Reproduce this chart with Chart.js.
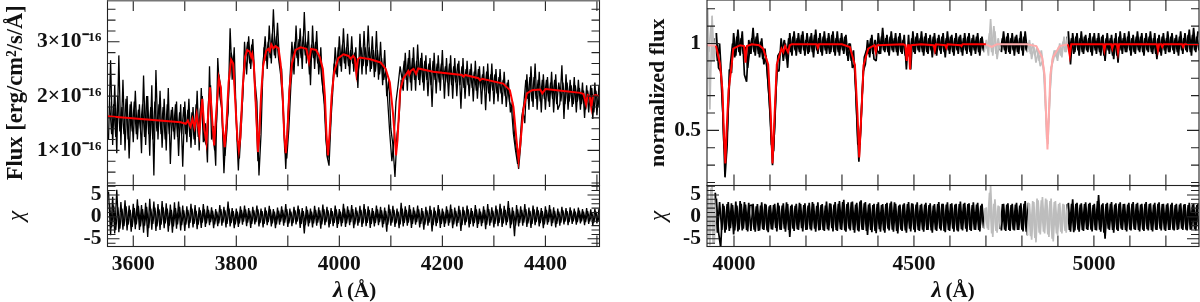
<!DOCTYPE html>
<html>
<head>
<meta charset="utf-8">
<title>Spectrum fit</title>
<script src="https://cdn.jsdelivr.net/npm/chart.js@4"></script>
<style>
  body { margin: 0; background: #fff; width: 1200px; height: 302px; overflow: hidden; position: relative; }
  canvas { position: absolute; }
</style>
</head>
<body>
<canvas id="fluxLeft" width="605" height="186" style="left:0;top:0"></canvas>
<canvas id="chiLeft" width="605" height="117" style="left:0;top:185px"></canvas>
<canvas id="fluxRight" width="580" height="186" style="left:620px;top:0"></canvas>
<canvas id="chiRight" width="580" height="117" style="left:620px;top:185px"></canvas>
<script>
// left spectrum, flux in units of 1e-16, sampled every 4 A from 3552
const fluxLeftStart = 3552, fluxLeftStep = 4;
const fluxLeftValues = [
  1.2,2.66,1.1,2.2,0.95,2.75,1.1,2.3,1.0,2.0,0.85,1.9,1.15,2.1,1.2,1.85,0.95,2.38,1.1,2.0,0.9,2.2,0.54,2.48,1.2,
  2.1,1.05,1.95,1.0,2.15,0.75,1.8,1.2,1.9,0.9,1.85,0.7,1.9,1.15,1.95,1.05,1.8,1.1,2.1,1.0,2.15,1.15,1.5,.78,2.55,
  1.2,1.45,.72,2.7,2.0,1.75,.58,1.4,1.7,3.25,2.3,2.9,1.5,.63,1.5,1.9,3.0,2.4,3.1,2.5,3.05,2.3,1.9,.54,1.3,
  2.6,3.1,2.5,3.3,2.6,3.6,2.7,3.35,2.6,2.5,1.6,.66,1.6,2.3,3.0,2.4,3.3,2.55,3.25,2.5,3.55,2.6,3.2,2.2,3.3,
  2.5,3.2,2.4,2.9,2.1,1.8,.9,.72,1.6,2.2,2.9,2.35,3.1,2.45,3.25,2.5,3.15,2.4,3.1,2.45,2.9,2.15,3.15,2.4,3.2,
  2.4,3.3,2.45,3.1,2.35,3.2,2.3,3.0,2.2,2.85,2.0,2.3,1.4,1.1,.51,1.3,1.6,2.3,2.1,2.8,2.1,2.85,2.1,2.9,2.1,
  2.95,2.2,2.8,2.1,2.75,2.0,2.7,1.8,2.8,2.05,2.75,2.1,2.85,1.95,2.7,2.0,2.75,1.95,2.7,2.0,2.65,1.77,2.7,1.95,2.65,
  2.0,2.6,1.9,2.65,1.95,2.55,1.85,2.55,1.74,2.6,1.9,2.6,1.85,2.5,1.9,2.5,1.85,2.45,1.8,2.3,1.7,1.9,1.3,1.0,.66,
  1.1,1.75,1.5,2.4,1.75,2.55,1.8,2.6,1.75,2.45,1.7,2.4,1.75,2.35,1.8,2.45,1.7,2.4,1.75,1.85,2.57,1.58,2.4,1.75,2.3,
  1.8,2.35,1.7,2.3,1.75,2.25,1.6,2.2,1.7,2.2,1.58,2.25,1.65,2.2
];
// samples in between, every 4 A from 3554
const fluxLeftBetween = [
  1.9,1.3,1.85,1.25,2.0,1.35,1.8,1.3,1.95,1.2,1.85,1.35,1.9,1.3,1.75,1.4,1.85,1.25,2.0,1.3,1.8,1.2,1.9,1.35,1.85,
  1.3,1.8,1.2,1.85,1.3,1.75,1.35,1.85,1.25,1.7,1.3,1.8,1.3,1.75,1.25,1.7,1.2,1.85,1.25,1.75,2.0,1.2,1.1,1.9,2.2,
  1.3,1.0,1.6,2.4,2.15,1.3,.9,1.4,2.2,2.8,2.6,2.0,1.2,.85,1.5,2.3,2.7,3.0,2.6,2.95,2.5,1.8,.8,1.5,2.2,
  2.9,2.65,3.0,2.7,3.15,2.75,3.1,2.7,2.4,1.9,1.0,.85,1.4,2.2,2.7,3.0,2.7,3.05,2.7,3.1,2.75,3.0,2.4,2.95,2.7,
  3.0,2.6,2.75,2.3,2.0,1.2,.85,1.3,2.1,2.6,2.4,2.9,2.55,2.95,2.6,2.9,2.55,2.85,2.6,2.8,2.3,2.55,2.9,2.55,2.9,
  2.55,2.9,2.5,2.85,2.45,2.85,2.4,2.7,2.3,2.5,1.9,1.3,.8,1.2,1.9,2.2,2.55,2.3,2.65,2.3,2.7,2.25,2.7,2.3,2.65,
  2.3,2.7,2.25,2.65,2.3,2.6,2.2,2.65,2.3,2.6,2.25,2.6,2.3,2.55,2.25,2.6,2.2,2.55,2.25,2.6,2.2,2.55,2.15,2.5,2.2,
  2.5,2.15,2.45,2.1,2.5,2.15,2.4,2.1,2.45,2.05,2.4,2.1,2.4,2.05,2.35,2.05,2.3,2.0,2.25,1.9,1.8,1.3,1.0,.75,1.05,
  1.6,1.85,2.3,1.95,2.35,1.9,2.35,1.95,2.3,1.9,2.3,1.95,2.3,1.9,2.25,1.95,2.3,1.85,2.25,1.9,2.25,1.85,2.25,1.9,2.2,
  1.85,2.2,1.9,2.15,1.85,2.1,1.75,2.1,1.85,2.15,1.7,2.1,1.8,2.1
];

// left model
const modelWaveLeft = [3550,3692,3702,3706,3711,3715,3719,3723,3728,3734,3738,3742,3746,3749,3753,3757,3761,3766,3770,3774,3777.5,3781,3785,3790,3794,3798,3802,3805,3808,3812,3817,3821,3826,3829,3831,3834,3838,3841,3842,3844,3848,3852,3858,3862,3865,3868,3872,3876,3882,3886,3890,3893,3896,3899,3903,3908,3915,3925,3936,3941,3945,3955,3962,3968,3972,3975,3978,3981,3985,3990,3998,4008,4018,4022,4027,4030,4033,4036,4040,4060,4080,4090,4098,4104,4108,4110,4113,4118,4124,4134,4136,4139,4144,4149,4153,4182,4238,4241,4244,4270,4273,4277,4318,4331,4338,4344,4348,4352,4357,4364,4374,4390,4394,4400,4422,4468,4474,4479,4482,4486,4489,4492,4497,4505];
const modelFluxLeft = [1.63,1.52,1.49,1.55,1.44,1.58,1.42,1.66,1.3,1.95,1.4,1.15,1.75,2.16,1.6,1.09,1.7,2.33,2.15,1.4,1.06,1.5,2.25,2.67,2.6,1.9,1.25,1.0,1.25,2.1,2.72,2.85,2.82,2.72,2.78,2.6,1.8,1.2,.97,1.2,2.0,2.55,2.83,2.87,2.82,2.95,2.88,2.92,2.88,2.6,2.0,1.3,.95,1.3,2.1,2.6,2.85,2.9,2.87,2.63,2.87,2.85,2.72,2.5,2.0,1.3,.91,1.3,2.0,2.45,2.7,2.77,2.74,2.69,2.74,2.7,2.42,2.68,2.71,2.68,2.62,2.5,2.25,1.7,1.2,.91,1.2,2.1,2.32,2.46,2.4,2.47,2.5,2.41,2.51,2.45,2.39,2.36,2.39,2.33,2.29,2.32,2.23,2.11,1.8,1.18,.82,1.18,1.74,2.05,2.11,2.12,2.05,2.13,2.11,2.06,2.04,1.85,2.02,2.0,1.79,2.0,2.02,2.0];

// left residuals, same sampling as the flux
const chiLeftValues = [
  5.8,-4.2,4.6,-3.8,6.2,-3.5,3.4,-2.9,3.8,-3.1,2.6,-3.4,3.0,-2.8,4.0,-3.0,2.7,-3.6,3.2,-4.6,4.1,-2.9,3.5,-3.2,2.9,
  -3.0,3.6,-2.6,3.1,-3.4,2.8,-3.6,3.3,-2.7,3.5,-3.1,2.6,-3.2,2.4,-2.6,3.0,-2.4,2.7,-2.8,2.2,-2.5,2.9,-2.3,2.5,-1.9,
  2.2,-2.6,1.8,-2.1,2.7,-2.0,2.3,-2.4,3.5,-2.2,2.0,-2.6,1.9,-2.3,2.4,-1.8,2.6,-2.1,2.0,-2.5,2.3,-1.7,2.6,-2.2,1.9,
  -2.4,2.2,-1.9,2.5,-2.2,1.8,-2.6,2.1,-1.8,2.4,-2.0,2.9,-2.3,1.9,-2.1,2.3,-1.7,2.6,-2.5,2.0,-3.8,2.4,-2.2,1.9,-2.4,
  2.5,-2.0,2.2,-2.7,2.8,-1.9,2.3,-2.4,2.0,-2.1,2.6,-2.5,1.8,-2.2,3.0,-2.3,2.4,-1.9,2.7,-2.6,2.2,-2.0,2.5,-2.3,2.9,
  -2.1,2.4,-2.5,2.0,-2.2,2.6,-1.9,2.3,-2.4,2.1,-3.4,2.8,-2.0,2.5,-2.3,1.9,-2.6,3.2,-2.2,2.4,-2.0,2.7,-2.5,2.2,-1.8,
  2.6,-2.4,2.0,-2.9,2.3,-2.0,2.5,-3.3,2.2,-2.1,2.7,-2.5,1.9,-2.3,2.4,-2.0,2.8,-2.6,2.1,-2.2,2.5,-3.2,2.3,-1.9,2.6,
  -2.4,2.0,-2.2,2.7,-2.5,1.9,-2.1,2.4,-2.8,2.9,-2.0,2.2,-2.4,2.6,-2.1,3.0,-2.3,2.5,-1.9,3.6,-2.6,2.2,-4.4,2.7,-2.2,
  2.4,-2.0,2.9,-2.3,2.1,-2.5,2.6,-1.9,2.3,-2.2,2.0,-2.6,2.4,-1.8,2.7,-2.1,2.2,-2.4,1.9,-2.0,2.3,-1.7,2.0,-1.9,2.2,
  -1.6,1.9,-1.8,2.1,-1.5,1.8,-1.9,2.0,-1.6,1.7,-2.0,1.9,-1.5,1.8
];
const chiLeftBetween = [
  3.1,-2.4,2.6,-3.0,2.2,-2.7,1.9,-2.1,2.4,-1.8,1.6,-2.3,2.0,-1.7,2.5,-2.2,1.8,-2.0,2.3,-2.6,1.9,-1.6,2.1,-2.2,1.7,
  -1.8,2.2,-1.5,1.9,-2.0,1.6,-2.2,2.0,-1.7,2.3,-1.9,1.5,-1.8,1.6,-1.4,1.9,-1.6,1.4,-1.8,1.5,-1.3,1.7,-1.5,1.6,-1.2,
  1.4,-1.7,1.2,-1.5,1.8,-1.3,1.5,-1.6,1.9,-1.4,1.3,-1.7,1.2,-1.5,1.6,-1.1,1.7,-1.3,1.4,-1.6,1.5,-1.2,1.7,-1.4,1.3,
  -1.6,1.4,-1.2,1.7,-1.5,1.2,-1.7,1.4,-1.1,1.6,-1.3,1.8,-1.5,1.2,-1.4,1.5,-1.1,1.7,-1.6,1.3,-1.9,1.6,-1.4,1.2,-1.5,
  1.6,-1.3,1.5,-1.7,1.8,-1.2,1.5,-1.6,1.3,-1.4,1.7,-1.6,1.2,-1.4,1.9,-1.5,1.6,-1.2,1.8,-1.7,1.4,-1.3,1.6,-1.5,1.8,
  -1.4,1.6,-1.6,1.3,-1.4,1.7,-1.2,1.5,-1.6,1.4,-1.8,1.8,-1.3,1.6,-1.5,1.2,-1.7,1.9,-1.4,1.6,-1.3,1.7,-1.6,1.4,-1.2,
  1.7,-1.6,1.3,-1.8,1.5,-1.3,1.6,-1.9,1.4,-1.4,1.7,-1.6,1.2,-1.5,1.6,-1.3,1.8,-1.7,1.4,-1.4,1.6,-1.9,1.5,-1.2,1.7,
  -1.6,1.3,-1.4,1.7,-1.6,1.2,-1.4,1.6,-1.8,1.8,-1.3,1.4,-1.6,1.7,-1.4,1.9,-1.5,1.6,-1.2,2.0,-1.7,1.4,-2.0,1.7,-1.4,
  1.6,-1.3,1.8,-1.5,1.4,-1.6,1.7,-1.2,1.5,-1.4,1.3,-1.7,1.6,-1.2,1.7,-1.4,1.4,-1.6,1.2,-1.3,1.5,-1.1,1.3,-1.2,1.4,
  -1.0,1.2,-1.2,1.4,-1.0,1.2,-1.2,1.3,-1.0,1.1,-1.3,1.2,-1.0,1.2
];

// right spectrum, normalized flux sampled every 6 A from 3927
const fluxRightStart = 3927, fluxRightStep = 6;
const fluxRightValues = [
  1.2,.62,1.16,.9,1.06,.86,.84,.6,.23,.42,.85,.83,1.06,.93,1.08,.93,1.07,.82,.78,1.02,
  .94,1.09,.93,1.06,.92,1.03,.88,.93,.76,.58,.3,.52,.85,.84,1.03,.9,1.0,.86,1.06,.93,
  1.07,.93,1.06,.94,1.07,.93,1.06,.95,1.06,.92,1.08,.94,1.06,.93,1.07,.94,1.06,.95,1.07,.93,
  1.07,.93,1.06,.94,1.05,.9,1.0,.86,.88,.6,.32,.55,.84,.88,1.02,.92,1.05,.91,.9,1.06,
  .94,1.09,.95,1.05,.93,1.07,.95,1.06,.93,1.06,.94,1.05,.85,1.05,.85,1.07,.94,1.06,.95,1.07,
  .93,1.06,.94,1.05,.92,1.06,.93,1.05,.94,1.06,.92,1.07,.94,1.05,.93,1.06,.94,1.05,.93,1.06,
  .94,1.06,.93,1.05,.94,1.06,.93,1.04,.95,1.02,.93,1.14,.93,1.07,.91,1.0,.95,1.07,.94,1.06,
  .94,1.06,.93,1.05,.94,1.07,.93,1.07,.95,1.02,.91,.98,.89,.95,.87,.9,.8,.45,.58,.86,
  .9,.96,.9,1.0,.92,1.04,.95,1.07,.88,1.06,.95,1.06,.93,1.07,.94,1.05,.95,1.06,.93,1.06,
  .94,1.06,.93,1.05,.9,1.06,.94,1.05,.91,1.06,.89,1.07,.94,1.06,.95,1.07,.93,1.05,.94,1.07,
  .95,1.06,.93,1.06,.95,1.07,.94,1.06,.91,1.05,.93,1.06,.94,1.07,.95,1.06,.94,1.05,.93,1.07,
  .94,1.06,.95,1.08,.93,1.09,.95,1.07
];
// samples in between, every 6 A from 3930
const fluxRightBetween = [
  .95,1.1,.9,1.03,.9,1.0,.78,.42,.35,.62,.88,1.0,.92,1.04,.95,1.03,.94,.98,.86,.97,
  1.03,.95,1.04,.94,1.01,.91,.97,.85,.68,.42,.38,.7,.93,.95,.97,1.02,.91,1.03,.95,1.04,
  .96,1.03,.95,1.05,.96,1.02,.94,1.04,.95,1.05,.96,1.03,.95,1.04,.96,1.03,.94,1.05,.95,1.03,
  .95,1.03,.96,1.04,.93,1.0,.9,.96,.75,.42,.42,.7,.92,.96,.94,1.03,.94,1.02,.96,.94,
  1.04,.96,1.03,.95,1.04,.96,1.03,.95,1.04,.95,1.02,.93,.96,.92,1.03,.95,1.04,.96,1.03,.95,
  1.04,.95,1.03,.96,1.04,.94,1.03,.96,1.04,.95,1.03,.96,1.04,.95,1.03,.96,1.04,.95,1.03,.96,
  1.04,.95,1.03,.96,1.04,.95,1.03,.96,1.0,.97,1.06,.95,1.1,.94,1.03,.96,1.03,.96,1.04,.95,
  1.03,.96,1.04,.95,1.03,.96,1.04,.96,1.0,.94,1.0,.93,.98,.9,.96,.86,.62,.42,.72,.9,
  .96,.92,.98,.93,1.01,.95,1.04,.96,1.03,.94,1.04,.96,1.03,.95,1.04,.96,1.03,.95,1.04,.96,
  1.03,.95,1.04,.93,1.03,.96,1.03,.93,1.03,.93,1.04,.96,1.03,.95,1.04,.96,1.03,.95,1.04,.96,
  1.04,.95,1.03,.96,1.04,.95,1.03,.94,1.03,.95,1.04,.96,1.03,.95,1.04,.96,1.03,.95,1.04,.96,
  1.03,.96,1.05,.95,1.05,.96,1.04,.96
];

const modelWaveRight = [3925,3950,3961,3968,3972,3976,3979,3985,3994,3998,4017,4028,4032,4036,4050,4070,4081,4095,4102,4107,4113,4119,4132,4137,4142,4150,4155,4160,4200,4230,4233,4236,4300,4322,4336,4343,4348,4354,4360,4373,4390,4394,4398,4470,4476,4480,4483,4486,4489,4492,4520,4555,4558,4561,4587,4590,4593,4630,4632,4635,4700,4716,4730,4813,4840,4856,4863,4867,4871,4875,4879,4886,4905,4928,4933,4937,4960,5026,5029,5032,5048,5051,5054,5064,5067,5070,5175,5178,5181,5187,5190,5193,5245,5248,5251,5292];
const modelFluxRight = [.99,.987,.885,.73,.48,.31,.48,.73,.885,.97,.99,.985,.89,.985,.995,.99,.97,.88,.6,.31,.6,.88,.97,.95,.985,.95,.99,.995,.995,.995,.975,.995,.995,.98,.875,.6,.345,.6,.875,.97,.99,.95,.99,.995,.99,.9,.99,.99,.85,.99,.995,.99,.96,.995,.99,.975,.995,.99,.985,.995,.995,.98,.995,.995,.985,.92,.82,.6,.39,.6,.82,.92,.985,.995,.93,.995,.995,.995,.96,.995,.995,.97,.995,.995,.95,.995,.995,.96,.995,.995,.98,.995,.995,.98,.995,.995];

// right residuals, same sampling as the flux
const chiRightValues = [
  7,-6.5,7,-6,4.2,-3.4,-7,3.0,-3.6,2.9,-3.2,3.1,-4.0,3.5,-3.3,3.6,-3.1,3.4,-3.0,3.2,
  -3.2,3.0,-3.4,2.9,-3.1,3.3,-3.0,2.8,-3.5,2.7,-2.9,3.0,-3.3,2.6,-3.0,3.1,-3.4,2.9,-4.6,2.8,
  -3.2,3.0,-3.0,2.9,-3.3,3.1,-2.9,3.2,-3.1,3.0,-3.4,3.3,-3.0,2.9,-3.2,3.5,-3.1,3.0,-3.3,3.4,
  -3.2,3.6,-3.0,3.9,-3.4,3.3,-3.1,3.5,-3.6,3.2,-3.3,3.8,-3.0,3.4,-4.1,3.1,-3.5,3.0,-3.7,3.3,
  -3.4,2.9,-3.6,3.2,-3.1,3.5,-3.4,3.0,-3.8,2.8,-3.2,3.1,-3.6,3.4,-3.3,3.0,-3.5,3.3,-3.2,3.0,
  -3.4,3.2,-3.0,3.1,-3.6,2.9,-3.2,3.4,-3.1,3.0,-3.5,3.3,-3.2,3.1,-3.4,3.0,-3.3,3.5,-3.1,3.2,
  -3.4,3.1,-3.2,3.3,-3.0,3.2,-3.3,3.0,-2.6,2.2,-3.0,7,-4.6,4.0,-3.6,2.4,-3.1,3.0,-3.2,3.1,
  -3.2,3.0,-3.1,3.2,-3.0,3.1,-3.3,3.6,-4.2,3.0,-5.2,3.4,-5.8,3.8,-4.0,4.5,-3.8,3.9,-4.6,4.2,
  -5.6,3.6,-4.2,3.2,-3.8,2.8,-3.6,3.2,-3.4,4.0,-3.1,3.2,-3.4,3.1,-3.2,3.3,-3.0,3.2,-3.3,3.0,
  -3.1,5.0,-3.4,3.1,-5.0,3.2,-3.0,3.4,-3.6,3.1,-3.2,3.3,-3.0,3.0,-3.3,3.2,-3.1,3.4,-3.0,3.2,
  -3.3,3.0,-3.2,3.4,-3.1,3.1,-3.3,3.2,-3.0,3.3,-3.1,3.0,-3.2,3.1,-3.0,3.2,-3.1,3.0,-2.8,3.1,
  -3.0,2.9,-3.1,3.2,-2.9,3.0,-3.1,2.9
];
const chiRightBetween = [
  -5,6.5,-6,5.5,-3.6,3.4,-3.0,2.5,-2.9,3.4,-2.6,2.7,-3.1,2.6,-2.9,3.0,-2.7,2.8,-3.3,2.6,
  2.7,-2.9,2.4,-3.2,2.6,-2.8,3.0,-3.1,2.4,-2.8,2.7,-2.5,3.2,-2.9,2.6,-2.7,3.3,-3.0,2.5,-2.7,
  2.5,-2.8,3.2,-2.6,2.7,-3.0,2.6,-2.8,3.4,-2.7,2.5,-3.1,2.7,-3.0,2.6,-2.8,3.1,-2.6,2.8,-3.0,
  3.0,-2.8,3.4,-3.1,2.9,-2.7,3.3,-3.0,2.8,-3.1,3.5,-2.9,3.1,-3.2,2.8,-3.0,2.7,-3.2,2.9,-2.8,
  2.7,-3.1,2.9,-2.7,3.1,-2.9,3.3,-3.2,2.6,-2.9,2.8,-3.1,2.9,-2.7,3.1,-2.9,2.8,-3.0,2.7,-2.9,
  2.8,-3.0,2.7,-3.1,2.6,-2.9,2.9,-2.7,3.0,-3.2,2.8,-3.0,2.9,-2.7,2.8,-3.1,2.9,-2.8,3.0,-2.7,
  2.9,-3.0,2.7,-2.9,2.8,-3.0,2.6,-2.4,2.0,-2.6,5.5,-3.8,3.0,-3.2,2.6,-2.8,2.9,-2.9,2.8,-3.0,
  2.7,-2.9,2.8,-3.0,2.6,-2.9,3.0,-3.4,3.2,-4.4,3.6,-4.8,4.2,-3.6,3.8,-3.4,4.2,-4.0,3.6,-5.0,
  3.4,-3.8,2.9,-3.4,3.0,-3.2,2.9,-3.0,3.0,-3.5,3.0,-2.9,2.8,-3.0,2.9,-2.8,3.0,-2.9,2.7,-3.0,
  3.6,-2.9,2.8,-3.6,2.9,-2.7,3.0,-3.0,2.8,-2.9,3.0,-2.7,2.9,-3.0,2.8,-2.9,3.0,-2.8,2.9,-3.0,
  2.8,-2.9,3.0,-2.8,2.9,-3.0,2.8,-2.9,3.0,-2.7,2.9,-2.9,2.8,-3.0,2.8,-2.9,2.7,-3.0,2.8,-2.7,
  2.8,-2.9,2.7,-2.9,2.8,-2.8,2.7,-2.9
];

// wavelength stretches left out of the fit in the normalized panels, drawn pale
const maskedRanges = [[3925, 3945], [4692, 4739], [4813, 4925]];

// tick lists
const xTicksLeft = [3600,3700,3800,3900,4000,4100,4200,4300,4400,4500];
const xLabelsLeft = [3600,3800,4000,4200,4400];
const xTicksRight = [4000,4100,4200,4300,4400,4500,4600,4700,4800,4900,5000,5100,5200];
const xLabelsRight = [4000,4500,5000];
const fluxTicksLeft = [0.4,0.6,0.8,1,1.2,1.4,1.6,1.8,2,2.2,2.4,2.6,2.8,3,3.2,3.4,3.6];
const fluxLabelsLeft = [1,2,3];
const fluxTicksRight = [0.2,0.3,0.4,0.5,0.6,0.7,0.8,0.9,1,1.1,1.2];
const fluxLabelsRight = [0.5,1];
const chiTicks = [-6,-5,-4,-3,-2,-1,0,1,2,3,4,5,6,7];
const chiLabels = [-5,0,5];

const FONT = '"Liberation Serif", serif';
const inMask = x => maskedRanges.some(r => x >= r[0] && x <= r[1]);
const sampled = (start, step, ys) => ys.map((y, i) => ({ x: start + step * i, y }));
const zip = (xs, ys) => xs.map((x, i) => ({ x, y: ys[i] }));

// inward ticks on all four sides plus the frame
const framePlugin = {
  id: 'frame',
  afterDatasetsDraw(chart, args, o) {
    const { ctx, chartArea: a, scales: { x, y } } = chart;
    ctx.save();
    ctx.strokeStyle = '#222';
    ctx.lineWidth = 1.1;
    ctx.beginPath();
    x.ticks.forEach(t => {
      const px = x.getPixelForValue(t.value);
      ctx.moveTo(px, a.top); ctx.lineTo(px, a.top + o.topTick);
      ctx.moveTo(px, a.bottom); ctx.lineTo(px, a.bottom - 11);
    });
    y.ticks.forEach(t => {
      const py = y.getPixelForValue(t.value);
      const len = o.majors.includes(t.value) ? 12 : 8;
      ctx.moveTo(a.left, py); ctx.lineTo(a.left + len, py);
      ctx.moveTo(a.right, py); ctx.lineTo(a.right - len, py);
    });
    ctx.stroke();
    ctx.strokeRect(a.left, a.top, a.right - a.left, a.bottom - a.top);
    if (o.grayTop) {
      ctx.strokeStyle = '#777';
      ctx.lineWidth = 2;
      ctx.beginPath(); ctx.moveTo(a.left, 0.5); ctx.lineTo(a.right, 0.5); ctx.stroke();
    }
    if (o.lambdaX) {
      ctx.fillStyle = '#111';
      ctx.textBaseline = 'alphabetic';
      ctx.textAlign = 'left';
      ctx.font = `italic bold 23px ${FONT}`;
      ctx.fillText('λ', o.lambdaX, 111.5);
      ctx.font = `bold 21px ${FONT}`;
      ctx.fillText('(Å)', o.lambdaX + 14, 111.5);
    }
    ctx.restore();
  }
};

function panel(id, cfg) {
  const pale = x => cfg.masked && inMask(x);
  const datasets = cfg.noise.map(data => ({ data, order: 1, borderColor: '#000', borderWidth: cfg.noiseWidth, pointRadius: 0, borderJoinStyle: 'bevel',
    segment: { borderColor: c => pale(c.p0.parsed.x) ? '#bdbdbd' : '#000' } }));
  if (cfg.model) {
    datasets.push({ data: cfg.model, order: 0, borderColor: '#f00', borderWidth: 2, pointRadius: 0,
      segment: { borderColor: c => pale(c.p0.parsed.x) ? '#ffaaaa' : '#f00' } });
  }
  const xOpts = {
    type: 'linear', min: cfg.xMin, max: cfg.xMax,
    grid: { display: false, drawTicks: false }, border: { display: false },
    afterBuildTicks: s => { s.ticks = cfg.xTicks.map(v => ({ value: v })); },
    afterFit: s => { s.height = cfg.xHeight; s.paddingLeft = 0; s.paddingRight = 0; },
    ticks: { display: cfg.showX, autoSkip: false, maxRotation: 0, padding: 5, color: '#111',
      font: { family: FONT, weight: 'bold', size: 21.5 },
      callback: v => cfg.xLabels.includes(v) ? String(v) : '' }
  };
  const yOpts = {
    type: 'linear', min: cfg.yMin, max: cfg.yMax,
    grid: { display: false, drawTicks: false }, border: { display: false },
    afterBuildTicks: s => { s.ticks = cfg.yTicks.map(v => ({ value: v })); },
    afterFit: s => { s.width = cfg.yWidth; s.paddingTop = 0; s.paddingBottom = 0; },
    title: { display: true, text: cfg.yTitle, color: '#111', padding: { top: cfg.titlePad, bottom: 0 },
      font: { family: FONT, weight: cfg.yTitleWeight || 'bold', style: cfg.yTitleStyle || 'normal', size: cfg.yTitleSize || 21 } },
    ticks: { autoSkip: false, padding: 6, color: '#111',
      font: { family: FONT, weight: 'bold', size: 21.5 },
      callback: v => cfg.yLabels.includes(v) ? cfg.yFormat(v) : '' }
  };
  return new Chart(document.getElementById(id), {
    type: 'line',
    data: { datasets },
    options: {
      responsive: false, animation: false, events: [],
      layout: { padding: { top: cfg.padTop, right: cfg.padRight, bottom: 0, left: 0 } },
      plugins: { legend: { display: false }, tooltip: { enabled: false },
        frame: { majors: cfg.yLabels, topTick: cfg.topTick, grayTop: cfg.grayTop, lambdaX: cfg.lambdaX } },
      scales: { x: xOpts, y: yOpts }
    },
    plugins: [framePlugin]
  });
}

const leftX = { xMin: 3550, xMax: 4505, xTicks: xTicksLeft, xLabels: xLabelsLeft, yWidth: 107.5, padRight: 5.5, masked: false };
const rightX = { xMin: 3925, xMax: 5292, xTicks: xTicksRight, xLabels: xLabelsRight, yWidth: 87, padRight: 1, masked: true };

panel('fluxLeft', { ...leftX, showX: false, xHeight: 0.5, topTick: 11, grayTop: true, padTop: 0,
  noise: [sampled(fluxLeftStart, fluxLeftStep, fluxLeftValues), sampled(fluxLeftStart + 2, fluxLeftStep, fluxLeftBetween)], noiseWidth: 1.3,
  model: zip(modelWaveLeft, modelFluxLeft),
  yMin: 0.354, yMax: 3.77, yTicks: fluxTicksLeft, yLabels: fluxLabelsLeft, yFormat: v => v + '×10⁻¹⁶',
  yTitle: 'Flux [erg/cm²/s/Å]', yTitleSize: 22.5, titlePad: 3 });

panel('chiLeft', { ...leftX, showX: true, xHeight: 55.5, topTick: 5, padTop: 0.5, lambdaX: 333,
  noise: [sampled(fluxLeftStart, fluxLeftStep, chiLeftValues), sampled(fluxLeftStart + 2, fluxLeftStep, chiLeftBetween)], noiseWidth: 1.3,
  yMin: -6.75, yMax: 7.15, yTicks: chiTicks, yLabels: chiLabels, yFormat: v => String(v),
  yTitle: 'χ', yTitleStyle: 'italic', yTitleWeight: 'normal', yTitleSize: 23, titlePad: 3 });

panel('fluxRight', { ...rightX, showX: false, xHeight: 0.5, topTick: 11, padTop: 0,
  noise: [sampled(fluxRightStart, fluxRightStep, fluxRightValues), sampled(fluxRightStart + 3, fluxRightStep, fluxRightBetween)], noiseWidth: 1.7,
  model: zip(modelWaveRight, modelFluxRight),
  yMin: 0.183, yMax: 1.25, yTicks: fluxTicksRight, yLabels: fluxLabelsRight, yFormat: v => String(v),
  yTitle: 'normalized flux', yTitleSize: 22, titlePad: 25 });

panel('chiRight', { ...rightX, showX: true, xHeight: 55.5, topTick: 5, padTop: 0.5, lambdaX: 311.5,
  noise: [sampled(fluxRightStart, fluxRightStep, chiRightValues), sampled(fluxRightStart + 3, fluxRightStep, chiRightBetween)], noiseWidth: 1.7,
  yMin: -6.75, yMax: 7.15, yTicks: chiTicks, yLabels: chiLabels, yFormat: v => String(v),
  yTitle: 'χ', yTitleStyle: 'italic', yTitleWeight: 'normal', yTitleSize: 23, titlePad: 25 });
</script>
</body>
</html>
